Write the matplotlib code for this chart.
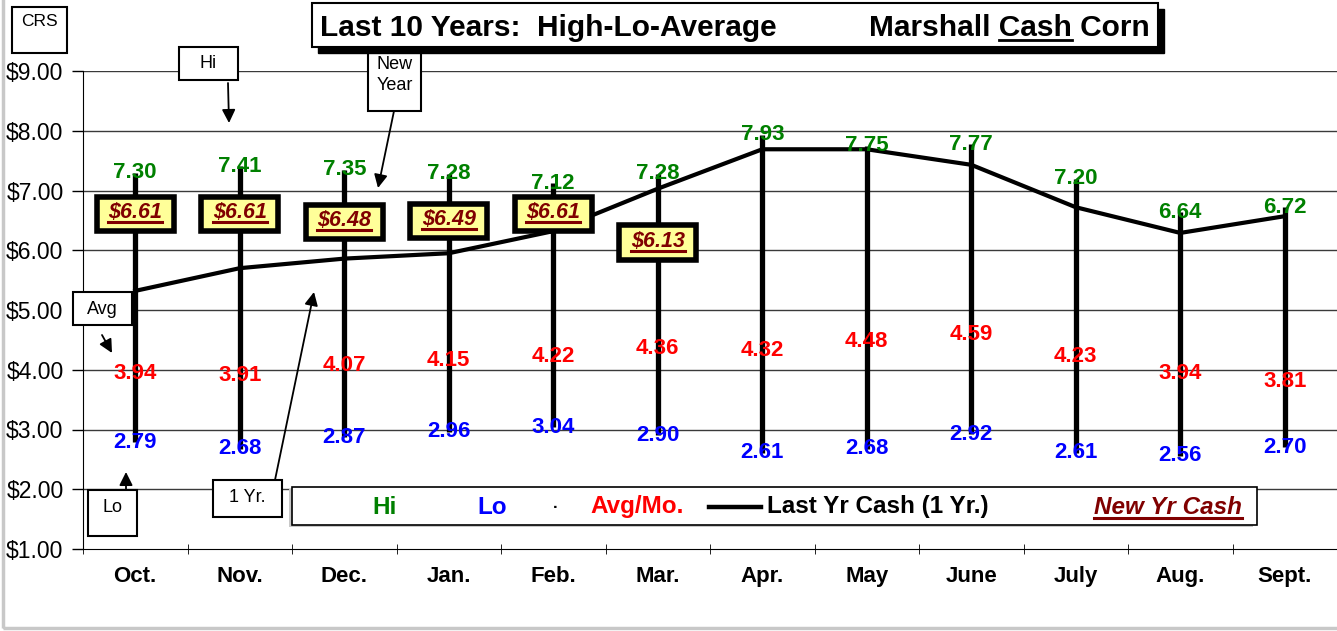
import numpy as np
import matplotlib.pyplot as plt
from matplotlib.patches import Rectangle
from matplotlib.lines import Line2D

# values
months = ['Oct.', 'Nov.', 'Dec.', 'Jan.', 'Feb.', 'Mar.', 'Apr.', 'May', 'June', 'July', 'Aug.', 'Sept.']
hi = [7.30, 7.41, 7.35, 7.28, 7.12, 7.28, 7.93, 7.75, 7.77, 7.20, 6.64, 6.72]
lo = [2.79, 2.68, 2.87, 2.96, 3.04, 2.90, 2.61, 2.68, 2.92, 2.61, 2.56, 2.70]
avg = [3.94, 3.91, 4.07, 4.15, 4.22, 4.36, 4.32, 4.48, 4.59, 4.23, 3.94, 3.81]
last_yr = [5.32, 5.70, 5.86, 5.95, 6.32, 7.03, 7.69, 7.69, 7.43, 6.72, 6.29, 6.57]
new_yr = [6.61, 6.61, 6.48, 6.49, 6.61, 6.13]
yticks = [1, 2, 3, 4, 5, 6, 7, 8, 9]

GREEN, BLUE, RED, DKRED = '#008000', '#0000FF', '#FF0000', '#800000'

W, H = 1337, 631
plt.rcParams['font.family'] = ['Liberation Sans', 'DejaVu Sans']

fig = plt.figure(figsize=(W / 100, H / 100), dpi=100)
ax = fig.add_axes([83 / W, 1 - 549 / H, (W - 83) / W, (549 - 71) / H])


def fx(x):
    return x / W


def fy(y):
    return 1 - y / H


x = np.arange(len(months))
ax.set_xlim(-0.5, 11.5)
ax.set_ylim(1, 9)
for v in yticks[1:]:
    ax.axhline(v, color='#3a3a3a', lw=1, zorder=0)
ax.set_yticks(yticks)
ax.set_yticklabels(['$%.2f' % v for v in yticks], fontsize=16.5)
ax.tick_params(axis='y', length=8, width=1, pad=6)
ax.set_xticks(x)
ax.set_xticklabels(months, fontsize=16, fontweight='bold')
ax.tick_params(axis='x', which='major', length=0, pad=12)
ax.set_xticks(np.arange(-0.5, 12, 1), minor=True)
ax.tick_params(axis='x', which='minor', length=7, direction='inout')
ax.spines['top'].set_visible(False)
ax.spines['right'].set_visible(False)

# hi-lo bars and last year's line
ax.vlines(x, lo, hi, color='k', lw=3.8, zorder=3)
ax.plot(x, last_yr, color='k', lw=3, zorder=4, solid_joinstyle='miter')

for i in x:
    ax.text(i, hi[i], '%.2f' % hi[i], color=GREEN, ha='center', va='center', fontsize=16, fontweight='bold', zorder=5)
    ax.text(i, lo[i], '%.2f' % lo[i], color=BLUE, ha='center', va='center', fontsize=16, fontweight='bold', zorder=5)
    ax.text(i, avg[i], '%.2f' % avg[i], color=RED, ha='center', va='center', fontsize=16, fontweight='bold', zorder=5)

# new year cash boxes
underlined = []
for i, v in enumerate(new_yr):
    ax.add_patch(Rectangle((i - 0.37, v - 0.285), 0.74, 0.57, fc='#FFFF99', ec='k', lw=4, zorder=6))
    t = ax.text(i, v + 0.02, '$%.2f' % v, color=DKRED, ha='center', va='center', fontsize=15.5,
                fontweight='bold', fontstyle='italic', zorder=7)
    underlined.append((t, DKRED, 2.2))


# small callout boxes
def box(x0, y0, x1, y1, lw=1.5):
    fig.add_artist(Rectangle((fx(x0), fy(y1)), fx(x1 - x0), (y1 - y0) / H, transform=fig.transFigure,
                             fc='white', ec='k', lw=lw, zorder=5))


def arrow(xa, ya, xb, yb):
    ax.annotate('', xy=(fx(xb), fy(yb)), xycoords='figure fraction', xytext=(fx(xa), fy(ya)),
                textcoords='figure fraction',
                arrowprops=dict(arrowstyle='-|>', color='k', lw=1.3, mutation_scale=20, shrinkA=0, shrinkB=0),
                zorder=8)


box(12, 7, 67, 53)
fig.text(fx(39.5), fy(22), 'CRS', ha='center', va='center', fontsize=12.5, zorder=6)
box(179, 47, 238, 80)
fig.text(fx(208.5), fy(63), 'Hi', ha='center', va='center', fontsize=13, zorder=6)
arrow(228, 83, 229, 123)
box(368, 49, 421, 111)
fig.text(fx(394.5), fy(75), 'New\nYear', ha='center', va='center', fontsize=13, linespacing=1.25, zorder=6)
arrow(394, 111, 378, 188)
box(73, 292, 132, 325)
fig.text(fx(102.5), fy(309), 'Avg', ha='center', va='center', fontsize=13, zorder=6)
arrow(102, 335, 112, 353)
box(88, 490, 137, 536)
fig.text(fx(112.5), fy(507), 'Lo', ha='center', va='center', fontsize=13, zorder=6)
arrow(126, 490, 126, 472)
box(213, 480, 282, 517)
fig.text(fx(247.5), fy(497), '1 Yr.', ha='center', va='center', fontsize=13, zorder=6)
arrow(275, 480, 314, 292)

# title box with shadow
fig.add_artist(Rectangle((fx(318), fy(53)), fx(846), 44 / H, transform=fig.transFigure, fc='k', ec='k', zorder=5))
box(312, 3, 1158, 47)
fig.text(fx(320), fy(27.5), 'Last 10 Years:  High-Lo-Average', ha='left', va='center',
         fontsize=21.5, fontweight='bold', zorder=6)
t_corn = fig.text(fx(1150), fy(27.5), 'Marshall Cash Corn', ha='right', va='center',
                  fontsize=21.5, fontweight='bold', zorder=6)

# legend box
fig.add_artist(Rectangle((fx(289), fy(527)), fx(964), 38 / H, transform=fig.transFigure,
                         fc='#c8c8c8', ec='none', zorder=4))
box(292, 487, 1257, 525, lw=1.2)
ly = fy(507)
fig.text(fx(385), ly, 'Hi', color=GREEN, ha='center', va='center', fontsize=17.5, fontweight='bold', zorder=6)
fig.text(fx(492), ly, 'Lo', color=BLUE, ha='center', va='center', fontsize=17.5, fontweight='bold', zorder=6)
fig.text(fx(556), ly, '·', color='k', ha='center', va='center', fontsize=12, fontweight='bold', zorder=6)
fig.text(fx(637), ly, 'Avg/Mo.', color=RED, ha='center', va='center', fontsize=17.5, fontweight='bold', zorder=6)
fig.add_artist(Line2D([fx(709), fx(761)], [ly, ly], transform=fig.transFigure, color='k', lw=3.2, zorder=6))
fig.text(fx(767), ly, 'Last Yr Cash (1 Yr.)', color='k', ha='left', va='center', fontsize=17.5,
         fontweight='bold', zorder=6)
t_new = fig.text(fx(1242), ly, 'New Yr Cash', color=DKRED, ha='right', va='center', fontsize=17.5,
                 fontweight='bold', fontstyle='italic', zorder=6)
underlined.append((t_new, DKRED, 2.2))

# grey frame at the edge of the picture
fig.add_artist(Rectangle((fx(3), fy(628)), fx(1400), 640 / H, transform=fig.transFigure,
                         fc='none', ec='#c8c8c8', lw=2.5, zorder=0))

# underlines need the rendered text extents
fig.canvas.draw()
r = fig.canvas.get_renderer()
for t, c, lw in underlined:
    bb = t.get_window_extent(r)
    yy = bb.y0 + 1
    fig.add_artist(Line2D([bb.x0 / W, bb.x1 / W], [yy / H, yy / H], transform=fig.transFigure,
                          color=c, lw=lw, zorder=9))

# underline "Cash" in the title
bb_all = t_corn.get_window_extent(r)
tmp = fig.text(0, 0, 'Cash Corn', fontsize=21.5, fontweight='bold')
w_cc = tmp.get_window_extent(r).width
tmp2 = fig.text(0, 0, 'Cash', fontsize=21.5, fontweight='bold')
w_c = tmp2.get_window_extent(r).width
tmp.remove()
tmp2.remove()
x0 = bb_all.x1 - w_cc
yy = bb_all.y0 + 2
fig.add_artist(Line2D([x0 / W, (x0 + w_c) / W], [yy / H, yy / H], transform=fig.transFigure,
                      color='k', lw=2, zorder=9))

fig.savefig('out.png', dpi=100)
